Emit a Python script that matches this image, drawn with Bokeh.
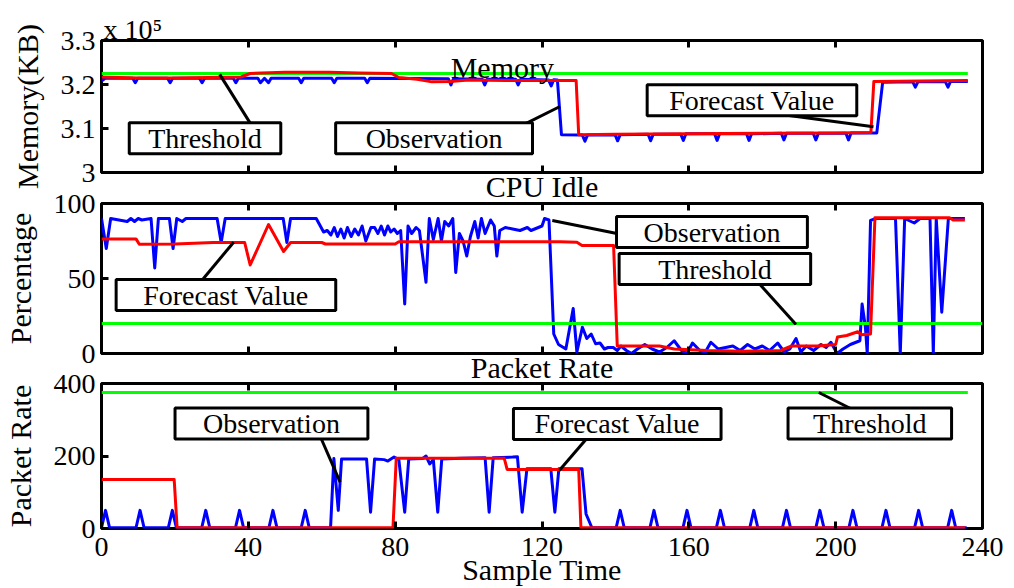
from bokeh.plotting import figure
from bokeh.layouts import column
from bokeh.models import Range1d, FixedTicker, CustomJSTickFormatter, LinearAxis, Label, Title
from bokeh.embed import file_html
from bokeh.resources import INLINE

FONT = "Liberation Serif"
BLUE = "#0000ff"
RED = "#ff0000"
GREEN = "#00ff00"

sample_ticks = [0, 40, 80, 120, 160, 200, 240]
mem_ticks = [3.0, 3.1, 3.2, 3.3]
cpu_ticks = [0, 50, 100]
pkt_ticks = [0, 200, 400]

# ---------------- Memory (x 10^5 KB) ----------------
mem_observation = [
    (0, 3.208), (1, 3.214), (8.5, 3.214), (9.2, 3.204), (9.9, 3.214), (18, 3.214), (18.7, 3.204),
    (19.4, 3.214), (26.7, 3.214), (27.4, 3.204), (28.1, 3.214), (35.9, 3.214), (36.6, 3.204),
    (37.3, 3.214), (42.6, 3.214), (43.3, 3.204), (44.4, 3.214), (45.5, 3.204), (46.2, 3.214),
    (53.7, 3.214), (54.4, 3.204), (55.1, 3.214), (62.7, 3.214), (63.4, 3.204), (64.1, 3.214),
    (71.7, 3.214), (72.4, 3.204), (73.1, 3.214), (94.5, 3.213), (95.2, 3.199), (95.9, 3.213),
    (103.7, 3.212), (104.4, 3.199), (105.1, 3.212), (112.8, 3.212), (113.5, 3.199), (114.2, 3.212),
    (121.8, 3.210), (122.5, 3.197), (123.2, 3.211), (124.2, 3.210), (125.3, 3.086), (131, 3.085),
    (131.7, 3.071), (132.4, 3.085), (139.9, 3.086), (140.6, 3.072), (141.3, 3.086), (148.9, 3.087),
    (149.6, 3.072), (150.3, 3.087), (157.8, 3.087), (158.5, 3.073), (159.2, 3.088), (167, 3.088),
    (167.7, 3.073), (168.4, 3.088), (175.7, 3.088), (176.4, 3.073), (177.1, 3.088), (185.2, 3.089),
    (185.9, 3.074), (186.6, 3.089), (193.9, 3.089), (194.6, 3.074), (195.3, 3.089), (202.8, 3.089),
    (203.5, 3.074), (204.2, 3.090), (211.2, 3.090), (212.8, 3.205), (221, 3.206), (221.7, 3.194),
    (222.4, 3.206), (229.9, 3.206), (230.6, 3.194), (231.3, 3.207), (236, 3.207),
]
mem_forecast = [
    (0, 3.217), (10, 3.215), (20, 3.215), (38, 3.217), (40.5, 3.225), (50, 3.228), (62, 3.228),
    (70, 3.226), (79, 3.225), (81, 3.216), (86, 3.212), (90, 3.206), (95, 3.207), (100, 3.210),
    (110, 3.209), (120, 3.209), (129.3, 3.209), (130, 3.086), (140, 3.087), (160, 3.088),
    (180, 3.089), (200, 3.090), (209.6, 3.091), (210.4, 3.207), (236, 3.209),
]
mem_threshold = [(0, 3.225), (236, 3.225)]

# ---------------- CPU Idle (%) ----------------
cpu_observation = [
    (0, 90), (1.3, 70), (2.5, 90), (7, 88), (8, 90), (9, 88), (10, 90), (11, 89), (13.5, 90),
    (14.5, 57), (15.5, 90), (18.5, 90), (19.5, 70), (20.5, 90), (22, 88), (23, 90), (31.5, 90),
    (32.6, 74), (33.7, 90), (49.5, 90), (50.5, 74), (51.5, 90), (58.5, 90), (60.5, 81), (61.5, 82),
    (62.5, 79), (63.4, 84), (64.3, 78), (65.2, 83), (66.1, 77), (67, 84), (68, 78), (69, 83),
    (70, 79), (71, 85), (72, 75), (73.4, 84), (74.4, 84), (75.3, 80), (76.2, 85), (77.1, 79),
    (78, 85), (78.8, 81), (79.7, 83), (80.6, 80), (81.5, 82), (82.6, 33), (83.5, 85), (84.5, 80),
    (85.7, 84), (86.6, 82), (88.4, 47.5), (89.3, 90), (90.4, 76), (91.7, 90), (92.6, 75), (93.5, 88),
    (94.6, 85), (95.7, 90), (96.5, 54), (97.5, 80), (98.5, 75), (99.5, 65), (100.5, 78),
    (101.7, 88), (102.6, 77), (103.5, 90), (104.5, 80), (106, 89), (107, 85), (107.7, 65),
    (108.5, 82), (110, 84), (112, 83), (114, 82), (116, 84), (117, 82), (119, 84), (120, 85),
    (120.7, 90), (121.9, 89), (123.2, 13), (124.5, 6), (126.5, 3), (128.5, 30), (129.5, 1),
    (131, 17.5), (132.2, 10), (133.4, 13), (134.6, 6.5), (135.8, 7), (137, 3), (138, 4),
    (139.4, 4), (140.5, 2), (141.5, 5), (143, 2), (144.4, 0), (146, 3), (148, 6), (150, 3),
    (152, 1), (154, 4), (156, 8.5), (158, 2), (159.5, 0), (161, 7), (163, 2), (164.5, 1),
    (166, 7.5), (168, 3), (170, 4), (172, 5), (174, 2), (176, 6), (178, 3), (180, 5), (182, 2),
    (184.2, 7), (186, 1), (187.5, 3), (189.2, 10), (190.5, 1), (192, 5), (194, 2), (196, 6),
    (197.4, 4), (198.7, 7.5), (200.4, 0), (202, 3), (204, 6), (206.6, 8.5), (207.2, 33),
    (208.1, 17.5), (208.6, 0), (209.5, 88.7), (211, 90), (216.3, 90), (217.6, 0), (218.8, 90),
    (221.4, 87), (223, 90), (225.7, 90), (226.6, 0), (227.4, 90), (228.9, 27.5), (230.7, 90),
    (235.2, 90),
]
cpu_forecast = [
    (0, 76.4), (9.4, 76.4), (10.3, 72.8), (20, 73), (30.5, 74), (39, 74), (40.5, 59), (45.5, 86),
    (49.6, 68), (51.5, 74), (60, 74), (61, 73), (80, 73), (81, 74.5), (125, 74.5), (129.5, 74.2),
    (130.9, 72), (139.5, 72), (140.5, 5), (152, 5), (156, 3), (165, 2), (175, 1.5), (185, 2),
    (188, 5), (195, 5), (200, 6), (200.5, 11), (203, 12), (206, 14.5), (207, 12.5), (209.5, 13),
    (210.7, 90.5), (231, 90.5), (232, 89), (235.2, 89),
]
cpu_threshold = [(0, 20), (240, 20)]

# ---------------- Packet Rate ----------------
pkt_observation = [
    (0, 2), (1.1, 50), (2.2, 2), (9.4, 2), (10.5, 50), (11.6, 2), (18.2, 2), (19.3, 50), (20.4, 2),
    (27.3, 2), (28.4, 50), (29.5, 2), (36.5, 2), (37.6, 50), (38.7, 2), (45.6, 2), (46.7, 50),
    (47.8, 2), (54.4, 2), (55.5, 50), (56.6, 2), (62.4, 2), (63.3, 193), (64.5, 50), (65.4, 192),
    (72.2, 192), (73.3, 45), (74.4, 192), (77, 190), (78, 186), (79.7, 197), (81, 190), (82.6, 45),
    (83.7, 192), (87.5, 193), (88.4, 200), (89.4, 178), (90.4, 190), (91.6, 45), (92.7, 192),
    (98, 194), (104.5, 195), (105.6, 45), (106.7, 195), (112, 197), (113.3, 198), (114.6, 45),
    (115.9, 165), (122.4, 165), (123.5, 45), (124.6, 165), (130.9, 165), (132, 40), (133.6, 2),
    (140.2, 2), (141.3, 50), (142.4, 2), (149.4, 2), (150.5, 50), (151.6, 2), (158.4, 2),
    (159.5, 50), (160.6, 2), (167.5, 2), (168.6, 50), (169.7, 2), (176.6, 2), (177.7, 50),
    (178.8, 2), (185.5, 2), (186.6, 50), (187.7, 2), (194.6, 2), (195.7, 50), (196.8, 2),
    (203.6, 2), (204.7, 50), (205.8, 2), (212.6, 2), (213.7, 50), (214.8, 2), (221.5, 2),
    (222.6, 50), (223.7, 2), (230.5, 2), (231.6, 50), (232.7, 2), (235.7, 2),
]
pkt_forecast = [
    (0, 135), (19.8, 135), (20.6, 2), (79.4, 2), (80.3, 194), (109.7, 194), (110.5, 163),
    (130, 163), (130.6, 2), (235.2, 2),
]
pkt_threshold = [(0, 375), (236, 375)]

# callout boxes: text, box centre (x, y), side padding, leader line (x0, y0, x1, y1)
mem_callouts = [
    ("Threshold", 28.2, 3.078, 19, (40.9, 3.107, 32.2, 3.223)),
    ("Observation", 90.6, 3.078, 30, (114.6, 3.107, 124.9, 3.150)),
    ("Forecast Value", 177.2, 3.164, 22, (183.2, 3.134, 210.3, 3.104)),
]
cpu_callouts = [
    ("Forecast Value", 33.9, 39, 27, (27.1, 48, 36.0, 74.2)),
    ("Observation", 166.3, 81, 27, (140.4, 80, 122.8, 88.7)),
    ("Threshold", 167.1, 56.3, 39, (178.9, 47.3, 189.2, 19.3)),
]
pkt_callouts = [
    ("Observation", 46.3, 289.7, 28, (59.6, 253.8, 65.0, 127.7)),
    ("Forecast Value", 140.5, 288.3, 21, (132.2, 248.3, 124.7, 160)),
    ("Threshold", 209.3, 289.7, 25, (204.6, 328.3, 195.4, 375.2)),
]


def style_axis(ax, labels=True):
    ax.axis_line_color = None
    ax.major_tick_in = 7
    ax.major_tick_out = 0
    ax.major_tick_line_width = 3
    ax.major_tick_line_color = "black"
    ax.minor_tick_line_color = None
    ax.major_label_text_font = FONT
    if labels:
        ax.major_label_text_font_size = "28px"
        ax.major_label_text_color = "black"
        ax.major_label_standoff = 6
    else:
        ax.major_label_text_font_size = "1px"
        ax.major_label_text_color = None
        ax.major_label_standoff = 0
    ax.axis_label_text_font = FONT
    ax.axis_label_text_font_size = "30px"
    ax.axis_label_text_font_style = "normal"
    ax.axis_label_text_color = "black"


def make_panel(y0, y1, yticks, ylabel, height, top, bottom, shift, obs, fc, thr, callouts,
               xlabels, below_text=None):
    p = figure(width=1014, height=height, x_range=Range1d(0, 240), y_range=Range1d(y0, y1),
               output_backend="svg", toolbar_location=None, title=None,
               min_border_left=97, min_border_right=32, min_border_top=top, min_border_bottom=bottom)
    p.margin = (shift, 0, 0, 0)
    p.background_fill_color = "white"
    p.border_fill_color = None
    p.outline_line_color = "black"
    p.outline_line_width = 3
    p.xgrid.visible = False
    p.ygrid.visible = False

    xa = p.xaxis[0]
    xa.ticker = FixedTicker(ticks=sample_ticks)
    style_axis(xa, labels=xlabels)
    if xlabels:
        xa.axis_label = "Sample Time"
        xa.axis_label_standoff = -6
        xa.major_label_standoff = 9
    elif below_text:
        # the next panel's title sits right under this frame
        xa.axis_label = below_text
        xa.axis_label_standoff = -3

    ya = p.yaxis[0]
    ya.ticker = FixedTicker(ticks=yticks)
    style_axis(ya)
    ya.axis_label = ylabel
    ya.axis_label_standoff = 14

    top_ax = LinearAxis(ticker=FixedTicker(ticks=sample_ticks))
    style_axis(top_ax, labels=False)
    p.add_layout(top_ax, "above")

    ox, oy = zip(*obs)
    fx, fy = zip(*fc)
    tx, ty = zip(*thr)
    p.line(list(ox), list(oy), line_color=BLUE, line_width=3, line_join="round")
    p.line(list(tx), list(ty), line_color=GREEN, line_width=3)
    p.line(list(fx), list(fy), line_color=RED, line_width=3, line_join="round")

    p.segment(x0=[c[4][0] for c in callouts], y0=[c[4][1] for c in callouts],
              x1=[c[4][2] for c in callouts], y1=[c[4][3] for c in callouts],
              line_color="black", line_width=3)
    for text, cx, cy, pad, _ in callouts:
        p.add_layout(Label(x=cx, y=cy, text=text, text_font=FONT, text_font_size="28px",
                           text_color="black", text_align="center", text_baseline="middle",
                           background_fill_color="white", border_line_color="black",
                           border_line_width=3,
                           padding=dict(left=pad, right=pad, top=0, bottom=0)))
    return p


# panel 1: page y 0..205, frame 40..172
p1 = make_panel(3.0, 3.3, mem_ticks, "Memory(KB)", 205, 40, 33, 0,
                mem_observation, mem_forecast, mem_threshold, mem_callouts, False, "CPU Idle")
p1.yaxis[0].formatter = CustomJSTickFormatter(code="return (Math.abs(tick - 3) < 1e-9) ? '3' : tick.toFixed(1);")
p1.add_layout(Title(text="x 10\u2075", text_font=FONT, text_font_size="28px", text_font_style="normal",
                    text_color="black", align="left", standoff=-8, offset=2), "above")
p1.add_layout(Label(x=109.2, y=3.2386, text="Memory", text_font=FONT, text_font_size="30px",
                    text_color="black", text_align="center", text_baseline="alphabetic"))

# panel 2: page y 180..386, frame 203..353
p2 = make_panel(0, 100, cpu_ticks, "Percentage", 206, 23, 33, -25,
                cpu_observation, cpu_forecast, cpu_threshold, cpu_callouts, False, "Packet Rate")

# panel 3: page y 360..588, frame 383..528
p3 = make_panel(0, 400, pkt_ticks, "Packet Rate", 228, 23, 60, -26,
                pkt_observation, pkt_forecast, pkt_threshold, pkt_callouts, True)

layout = column(p1, p2, p3, spacing=0)
open("out.html", "w").write(file_html(layout, INLINE))
